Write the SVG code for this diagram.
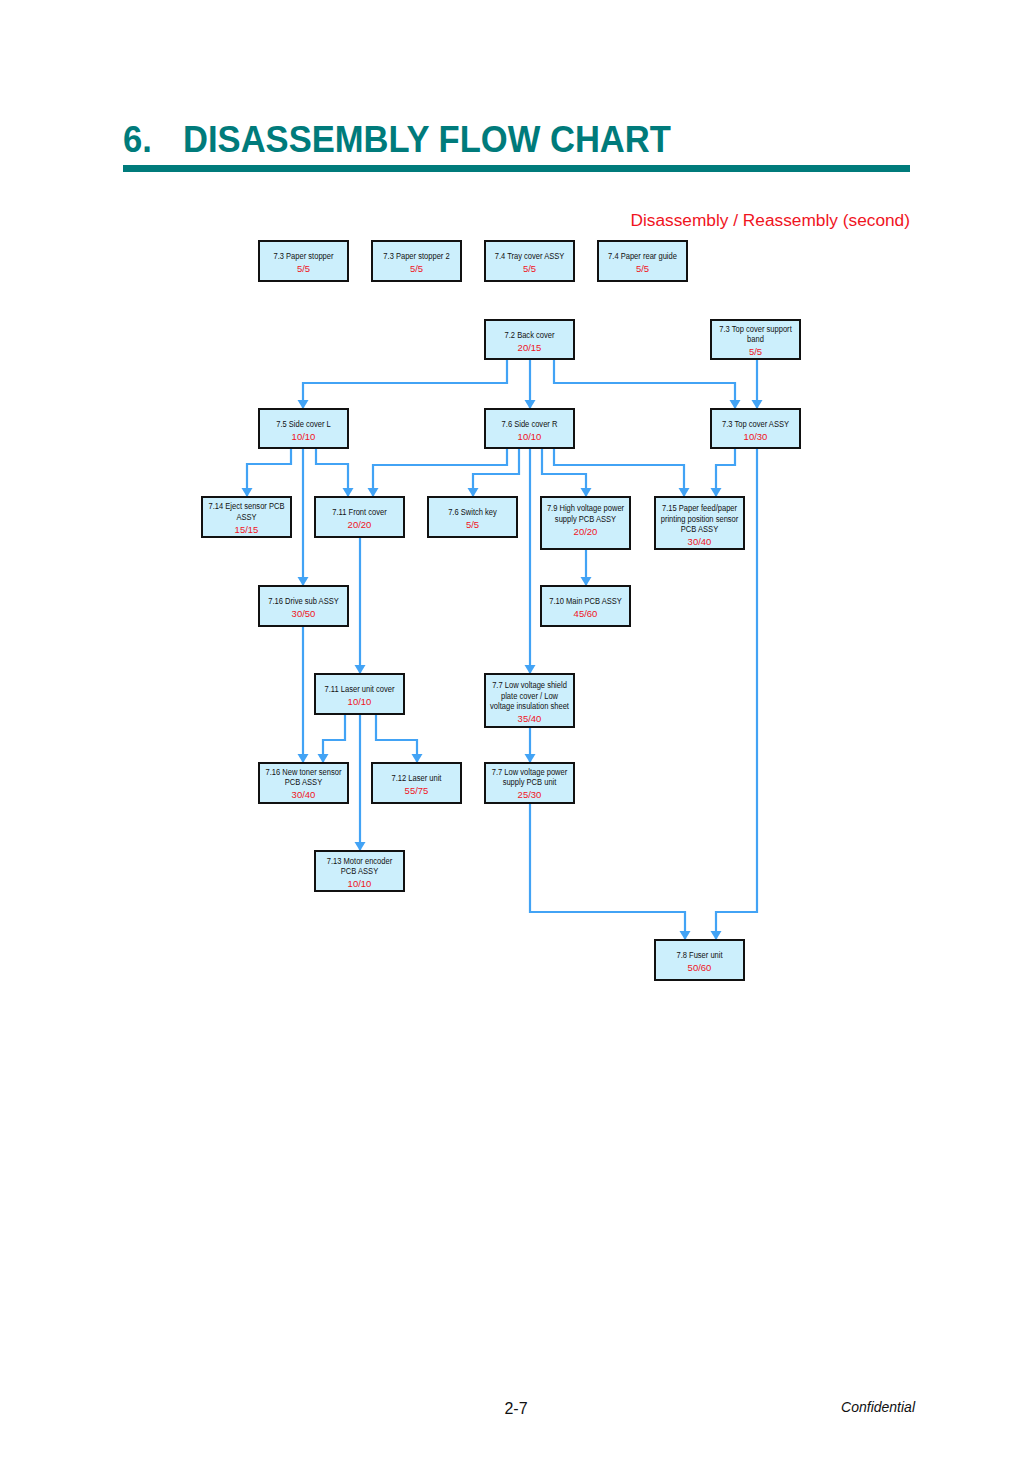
<svg xmlns="http://www.w3.org/2000/svg" width="1033" height="1462" viewBox="0 0 1033 1462">
<style>
.box{fill:#CCEFFC;stroke:#111;stroke-width:2}
.lb{font-family:"Liberation Sans",Arial,sans-serif;font-size:9px;fill:#111;text-anchor:middle}
.nm{font-family:"Liberation Sans",Arial,sans-serif;font-size:9.5px;fill:#F0141E;text-anchor:middle}
.cn{fill:none;stroke:#42A3F5;stroke-width:2.2;marker-end:url(#ah)}
.title{font-family:"Liberation Sans",Arial,sans-serif;font-size:37px;font-weight:bold;fill:#007B7B}
</style>
<defs>
<marker id="ah" markerUnits="userSpaceOnUse" markerWidth="12" markerHeight="12" viewBox="0 -6 10 12" refX="9" refY="0" orient="auto">
<path d="M0,-5.5 L9,0 L0,5.5 z" fill="#42A3F5"/>
</marker>
</defs>
<rect width="1033" height="1462" fill="#fff"/>
<text class="title" transform="translate(123,152) scale(0.935,1)">6.</text>
<text class="title" transform="translate(183,152) scale(0.935,1)">DISASSEMBLY FLOW CHART</text>
<rect x="123" y="165" width="787" height="7" fill="#007B7B"/>
<text x="910" y="226" font-family="Liberation Sans, Arial, sans-serif" font-size="17.3" fill="#F0141E" text-anchor="end">Disassembly / Reassembly (second)</text>

<g id="connectors">
<path class="cn" d="M507,359 V383 H303 V409"/>
<path class="cn" d="M530,359 V409"/>
<path class="cn" d="M554,359 V383 H735 V409"/>
<path class="cn" d="M757,359 V409"/>
<path class="cn" d="M291,448 V464 H247 V497"/>
<path class="cn" d="M303,448 V586"/>
<path class="cn" d="M316,448 V464 H348 V497"/>
<path class="cn" d="M507,448 V465 H373 V497"/>
<path class="cn" d="M519,448 V474 H473 V497"/>
<path class="cn" d="M530,448 V674"/>
<path class="cn" d="M542,448 V474 H586 V497"/>
<path class="cn" d="M554,448 V465 H684 V497"/>
<path class="cn" d="M735,448 V465 H716 V497"/>
<path class="cn" d="M757,448 V912 H716 V940"/>
<path class="cn" d="M586,549 V586"/>
<path class="cn" d="M360,537 V674"/>
<path class="cn" d="M303,626 V763"/>
<path class="cn" d="M345,714 V740 H323 V763"/>
<path class="cn" d="M360,714 V851"/>
<path class="cn" d="M376,714 V740 H417 V763"/>
<path class="cn" d="M530,727 V763"/>
<path class="cn" d="M530,803 V912 H685 V940"/>
</g>

<g id="n_paper_stopper">
<rect class="box" x="259" y="241" width="89" height="40"/>
<text class="lb" transform="translate(303.5,259) scale(0.84,1)">7.3 Paper stopper</text>
<text class="nm" x="303.5" y="272">5/5</text>
</g>
<g id="n_paper_stopper2">
<rect class="box" x="372" y="241" width="89" height="40"/>
<text class="lb" transform="translate(416.5,259) scale(0.84,1)">7.3 Paper stopper 2</text>
<text class="nm" x="416.5" y="272">5/5</text>
</g>
<g id="n_tray_cover">
<rect class="box" x="485" y="241" width="89" height="40"/>
<text class="lb" transform="translate(529.5,259) scale(0.84,1)">7.4 Tray cover ASSY</text>
<text class="nm" x="529.5" y="272">5/5</text>
</g>
<g id="n_paper_rear_guide">
<rect class="box" x="598" y="241" width="89" height="40"/>
<text class="lb" transform="translate(642.5,259) scale(0.84,1)">7.4 Paper rear guide</text>
<text class="nm" x="642.5" y="272">5/5</text>
</g>
<g id="n_back_cover">
<rect class="box" x="485" y="320" width="89" height="39"/>
<text class="lb" transform="translate(529.5,338) scale(0.84,1)">7.2 Back cover</text>
<text class="nm" x="529.5" y="351">20/15</text>
</g>
<g id="n_top_cover_band">
<rect class="box" x="711" y="320" width="89" height="39"/>
<text class="lb" transform="translate(755.5,332) scale(0.84,1)">7.3 Top cover support</text>
<text class="lb" transform="translate(755.5,342) scale(0.84,1)">band</text>
<text class="nm" x="755.5" y="355">5/5</text>
</g>
<g id="n_side_cover_l">
<rect class="box" x="259" y="409" width="89" height="39"/>
<text class="lb" transform="translate(303.5,427) scale(0.84,1)">7.5 Side cover L</text>
<text class="nm" x="303.5" y="440">10/10</text>
</g>
<g id="n_side_cover_r">
<rect class="box" x="485" y="409" width="89" height="39"/>
<text class="lb" transform="translate(529.5,427) scale(0.84,1)">7.6 Side cover R</text>
<text class="nm" x="529.5" y="440">10/10</text>
</g>
<g id="n_top_cover">
<rect class="box" x="711" y="409" width="89" height="39"/>
<text class="lb" transform="translate(755.5,427) scale(0.84,1)">7.3 Top cover ASSY</text>
<text class="nm" x="755.5" y="440">10/30</text>
</g>
<g id="n_eject_sensor">
<rect class="box" x="202" y="497" width="89" height="40"/>
<text class="lb" transform="translate(246.5,509) scale(0.84,1)">7.14 Eject sensor PCB</text>
<text class="lb" transform="translate(246.5,520) scale(0.84,1)">ASSY</text>
<text class="nm" x="246.5" y="533">15/15</text>
</g>
<g id="n_front_cover">
<rect class="box" x="315" y="497" width="89" height="40"/>
<text class="lb" transform="translate(359.5,515) scale(0.84,1)">7.11 Front cover</text>
<text class="nm" x="359.5" y="528">20/20</text>
</g>
<g id="n_switch_key">
<rect class="box" x="428" y="497" width="89" height="40"/>
<text class="lb" transform="translate(472.5,515) scale(0.84,1)">7.6 Switch key</text>
<text class="nm" x="472.5" y="528">5/5</text>
</g>
<g id="n_hv_power">
<rect class="box" x="541" y="497" width="89" height="52"/>
<text class="lb" transform="translate(585.5,511) scale(0.84,1)">7.9 High voltage power</text>
<text class="lb" transform="translate(585.5,522) scale(0.84,1)">supply PCB ASSY</text>
<text class="nm" x="585.5" y="535">20/20</text>
</g>
<g id="n_paper_feed_sensor">
<rect class="box" x="655" y="497" width="89" height="52"/>
<text class="lb" transform="translate(699.5,511) scale(0.84,1)">7.15 Paper feed/paper</text>
<text class="lb" transform="translate(699.5,522) scale(0.84,1)">printing position sensor</text>
<text class="lb" transform="translate(699.5,532) scale(0.84,1)">PCB ASSY</text>
<text class="nm" x="699.5" y="545">30/40</text>
</g>
<g id="n_drive_sub">
<rect class="box" x="259" y="586" width="89" height="40"/>
<text class="lb" transform="translate(303.5,604) scale(0.84,1)">7.16 Drive sub ASSY</text>
<text class="nm" x="303.5" y="617">30/50</text>
</g>
<g id="n_main_pcb">
<rect class="box" x="541" y="586" width="89" height="40"/>
<text class="lb" transform="translate(585.5,604) scale(0.84,1)">7.10 Main PCB ASSY</text>
<text class="nm" x="585.5" y="617">45/60</text>
</g>
<g id="n_laser_cover">
<rect class="box" x="315" y="674" width="89" height="40"/>
<text class="lb" transform="translate(359.5,692) scale(0.84,1)">7.11 Laser unit cover</text>
<text class="nm" x="359.5" y="705">10/10</text>
</g>
<g id="n_lv_shield">
<rect class="box" x="485" y="674" width="89" height="53"/>
<text class="lb" transform="translate(529.5,688) scale(0.84,1)">7.7 Low voltage shield</text>
<text class="lb" transform="translate(529.5,699) scale(0.84,1)">plate cover / Low</text>
<text class="lb" transform="translate(529.5,709) scale(0.84,1)">voltage insulation sheet</text>
<text class="nm" x="529.5" y="722">35/40</text>
</g>
<g id="n_new_toner">
<rect class="box" x="259" y="763" width="89" height="40"/>
<text class="lb" transform="translate(303.5,775) scale(0.84,1)">7.16 New toner sensor</text>
<text class="lb" transform="translate(303.5,785) scale(0.84,1)">PCB ASSY</text>
<text class="nm" x="303.5" y="798">30/40</text>
</g>
<g id="n_laser_unit">
<rect class="box" x="372" y="763" width="89" height="40"/>
<text class="lb" transform="translate(416.5,781) scale(0.84,1)">7.12 Laser unit</text>
<text class="nm" x="416.5" y="794">55/75</text>
</g>
<g id="n_lv_power">
<rect class="box" x="485" y="763" width="89" height="40"/>
<text class="lb" transform="translate(529.5,775) scale(0.84,1)">7.7 Low voltage power</text>
<text class="lb" transform="translate(529.5,785) scale(0.84,1)">supply PCB unit</text>
<text class="nm" x="529.5" y="798">25/30</text>
</g>
<g id="n_motor_encoder">
<rect class="box" x="315" y="851" width="89" height="40"/>
<text class="lb" transform="translate(359.5,864) scale(0.84,1)">7.13 Motor encoder</text>
<text class="lb" transform="translate(359.5,874) scale(0.84,1)">PCB ASSY</text>
<text class="nm" x="359.5" y="887">10/10</text>
</g>
<g id="n_fuser">
<rect class="box" x="655" y="940" width="89" height="40"/>
<text class="lb" transform="translate(699.5,958) scale(0.84,1)">7.8 Fuser unit</text>
<text class="nm" x="699.5" y="971">50/60</text>
</g>

<text x="516" y="1414" font-family="Liberation Sans, Arial, sans-serif" font-size="16" fill="#111" text-anchor="middle">2-7</text>
<text x="915" y="1412" font-family="Liberation Sans, Arial, sans-serif" font-size="14" font-style="italic" fill="#111" text-anchor="end">Confidential</text>
</svg>
